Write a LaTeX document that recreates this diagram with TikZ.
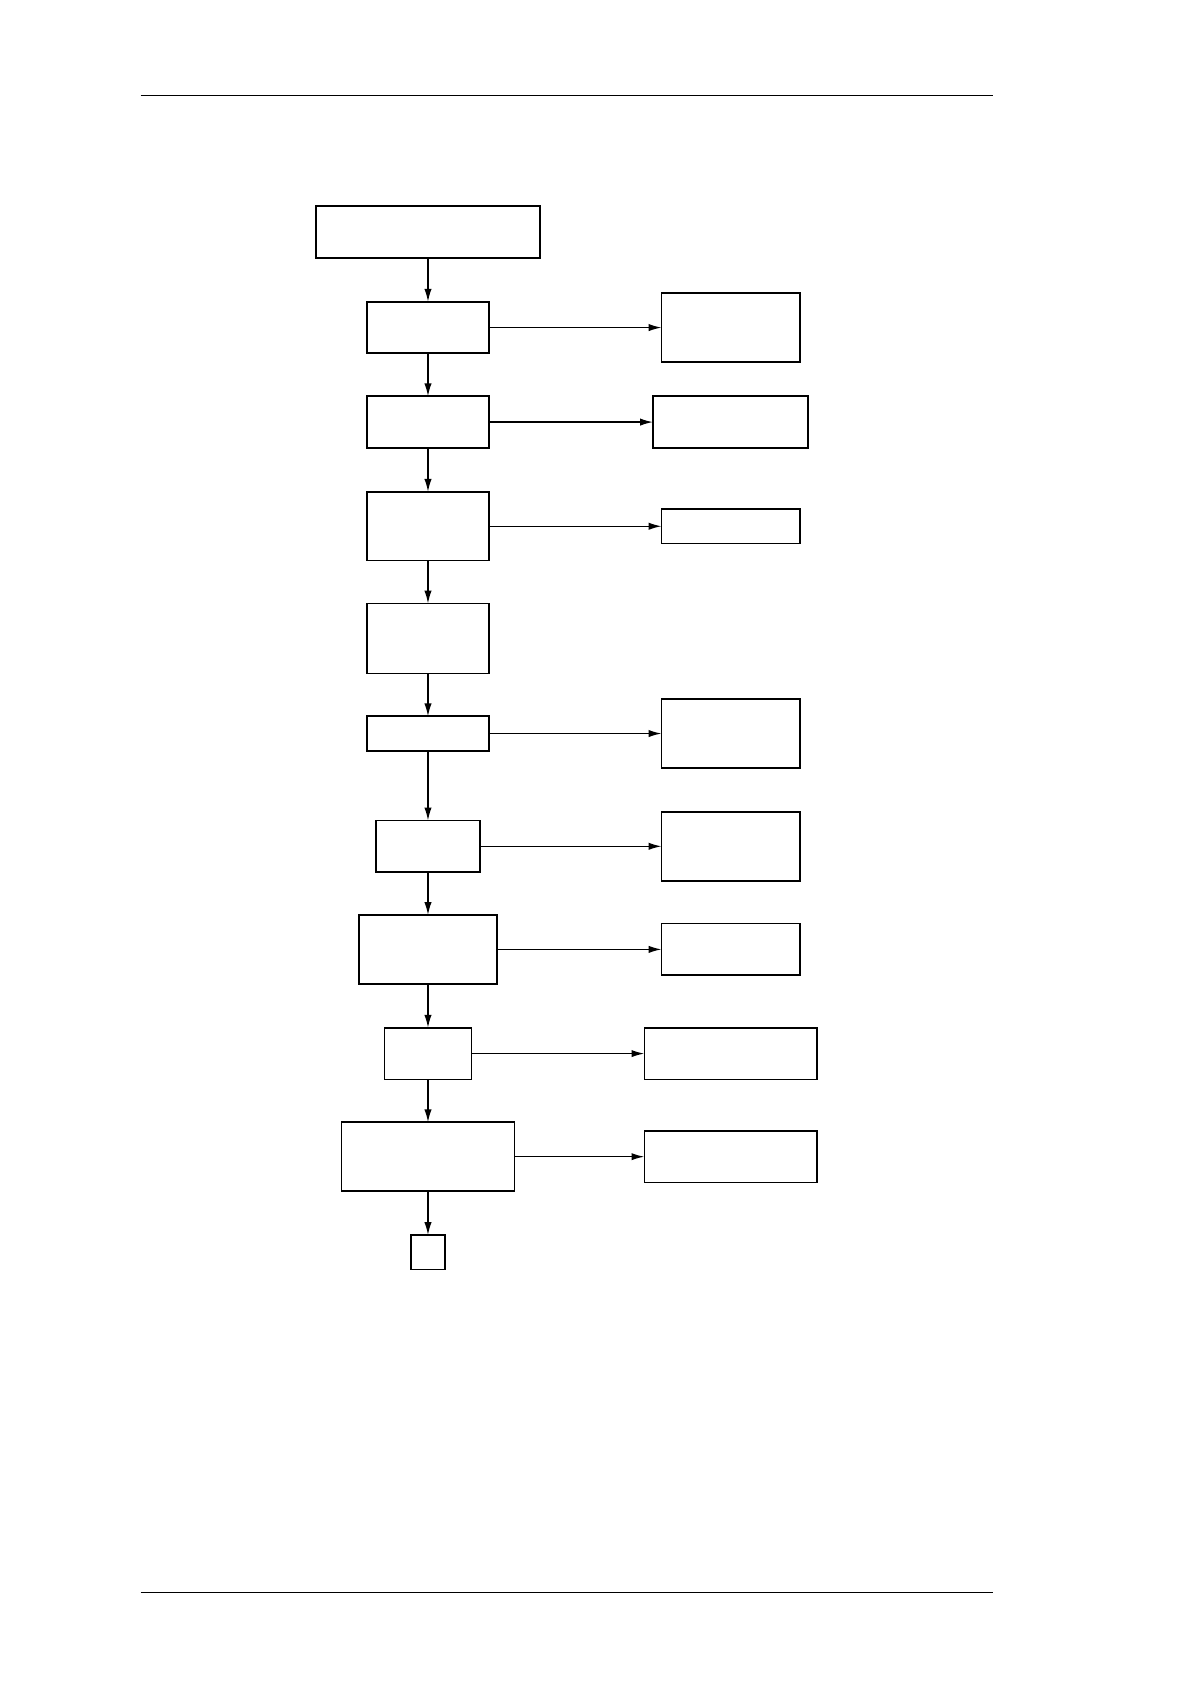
\documentclass[tikz,border=0pt]{standalone}
\usetikzlibrary{arrows.meta}
\begin{document}
\begin{tikzpicture}[x=0.5pt,y=-0.5pt,
  box/.style={draw,line width=0.8pt,inner sep=0pt,outer sep=0pt},
  arr/.style={line width=0.7pt,-{Latex[length=6pt,width=3.4pt]}},
  rule/.style={line width=0.6pt}]
\useasboundingbox (0,0) rectangle (1108,1568);
\coordinate (hl) at (131,89); \coordinate (hr) at (925,89);
\coordinate (fl) at (131,1483); \coordinate (fr) at (925,1483);
\draw[rule] (hl) -- (hr);
\draw[rule] (fl) -- (fr);
% main column
\node[box,minimum width=104.5pt,minimum height=24pt] (b1) at (398.5,216) {};
\node[box,minimum width=56.5pt,minimum height=24pt] (b2) at (398.5,305) {};
\node[box,minimum width=56.5pt,minimum height=24pt] (b3) at (398.5,393) {};
\node[box,minimum width=56.5pt,minimum height=32pt] (b4) at (398.5,490) {};
\node[box,minimum width=56.5pt,minimum height=32.5pt] (b5) at (398.5,594.5) {};
\node[box,minimum width=56.5pt,minimum height=16pt] (b6) at (398.5,683) {};
\node[box,minimum width=48.5pt,minimum height=24pt] (b7) at (398.5,788) {};
\node[box,minimum width=64.5pt,minimum height=32pt] (b8) at (398.5,884) {};
\node[box,minimum width=40.5pt,minimum height=24pt] (b9) at (398.5,981) {};
\node[box,minimum width=80.5pt,minimum height=32pt] (b10) at (398.5,1077) {};
\node[box,minimum width=16pt,minimum height=16pt] (b11) at (398.5,1166) {};
% right column
\node[box,minimum width=64.5pt,minimum height=32pt] (r1) at (680.5,305) {};
\node[box,minimum width=72pt,minimum height=24pt] (r2) at (680,393) {};
\node[box,minimum width=64.5pt,minimum height=16pt] (r3) at (680.5,490) {};
\node[box,minimum width=64.5pt,minimum height=32pt] (r4) at (680.5,683) {};
\node[box,minimum width=64.5pt,minimum height=32pt] (r5) at (680.5,788) {};
\node[box,minimum width=64.5pt,minimum height=24pt] (r6) at (680.5,884) {};
\node[box,minimum width=80.5pt,minimum height=24pt] (r7) at (680.5,981) {};
\node[box,minimum width=80.5pt,minimum height=24pt] (r8) at (680.5,1077) {};
% vertical arrows
\foreach \a/\b in {b1/b2,b2/b3,b3/b4,b4/b5,b5/b6,b6/b7,b7/b8,b8/b9,b9/b10,b10/b11}
  \draw[arr] (\a) -- (\b);
% horizontal arrows
\foreach \a/\b in {b2/r1,b3/r2,b4/r3,b6/r4,b7/r5,b8/r6,b9/r7,b10/r8}
  \draw[arr] (\a.east) -- (\b.west);
\end{tikzpicture}
\end{document}
